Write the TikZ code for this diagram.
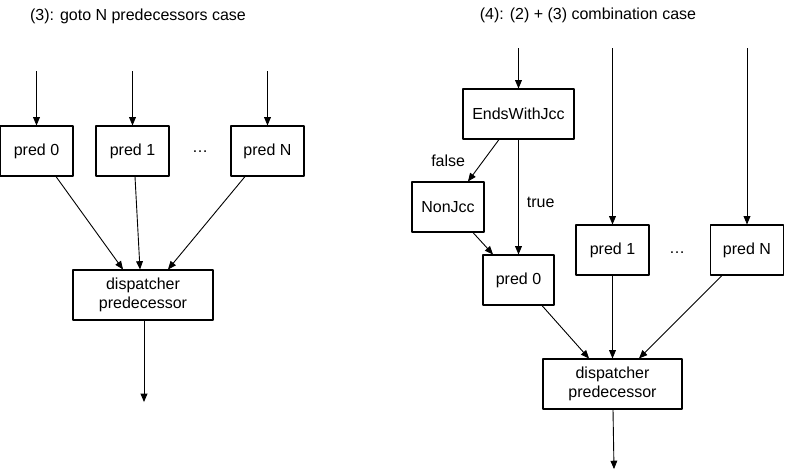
\documentclass[tikz,border=0pt]{standalone}
\usepackage{fontspec}
\setmainfont{Liberation Sans}
\usetikzlibrary{arrows}
\tikzset{
  block/.style={draw,line width=1.1pt,inner sep=0pt,minimum height=50pt,align=center},
  flow/.style={->,line width=0.9pt},
  lbl/.style={inner sep=0pt}
}
\begin{document}
\begin{tikzpicture}[line cap=butt,line join=round,>=triangle 45,x=1pt,y=-1pt,font=\fontsize{16}{19}\selectfont]
\useasboundingbox (0,0) rectangle (785,472);
% (3) goto N predecessors
\node[lbl] (title3) at (138,16) {(3): goto N predecessors case};
\node[block,minimum width=73pt] (p0) at (36.5,151) {pred 0};
\node[block,minimum width=73pt] (p1) at (132.5,151) {pred 1};
\node[lbl] (dotsL) at (200,152) {…};
\node[block,minimum width=73pt] (pN) at (267.5,151) {pred N};
\node[block,minimum width=140pt] (disp) at (143,295) {dispatcher\\predecessor};
\coordinate (in0) at (36.5,71);
\coordinate (in1) at (132.5,71);
\coordinate (inN) at (267.5,71);
\coordinate (outL) at (144,402);
\draw[flow] (in0) -- (p0.north);
\draw[flow] (in1) -- (p1.north);
\draw[flow] (inN) -- (pN.north);
\draw[flow] ([xshift=19.5pt]p0.south) -- ([xshift=-20pt]disp.north);
\draw[flow] ([xshift=2.5pt]p1.south) -- ([xshift=-3pt]disp.north);
\draw[flow] ([xshift=-22.5pt]pN.south) -- ([xshift=25pt]disp.north);
\draw[flow] ([xshift=1pt]disp.south) -- (outL);
% (4) combination case
\node[lbl] (title4) at (588,15) {(4): (2) + (3) combination case};
\node[block,minimum width=111pt] (ewj) at (518.5,114) {EndsWithJcc};
\node[block,minimum width=72pt] (nonjcc) at (448,207) {NonJcc};
\node[block,minimum width=71pt] (q0) at (518.5,280) {pred 0};
\node[block,minimum width=73pt] (q1) at (612.5,250) {pred 1};
\node[lbl] (dotsR) at (677,253) {…};
\node[block,minimum width=73pt] (qN) at (747,250) {pred N};
\node[block,minimum width=139pt] (disp2) at (612.5,384) {dispatcher\\predecessor};
\coordinate (inE) at (518.5,48);
\coordinate (in1r) at (612.5,48);
\coordinate (inNr) at (747,48);
\coordinate (outR) at (614,469);
\draw[flow] (inE) -- (ewj.north);
\draw[flow] (in1r) -- (q1.north);
\draw[flow] (inNr) -- (qN.north);
\draw[flow] ([xshift=-19.5pt]ewj.south) -- node[lbl,midway,left=18pt] {false} ([xshift=20pt]nonjcc.north);
\draw[flow] (ewj.south) -- node[lbl,pos=0.55,right=8pt] {true} (q0.north);
\draw[flow] ([xshift=25pt]nonjcc.south) -- ([xshift=-25.5pt]q0.north);
\draw[flow] ([xshift=23.5pt]q0.south) -- ([xshift=-23.5pt]disp2.north);
\draw[flow] (q1.south) -- (disp2.north);
\draw[flow] ([xshift=-25pt]qN.south) -- ([xshift=26.5pt]disp2.north);
\draw[flow] ([xshift=0.5pt]disp2.south) -- (outR);
\end{tikzpicture}
\end{document}
